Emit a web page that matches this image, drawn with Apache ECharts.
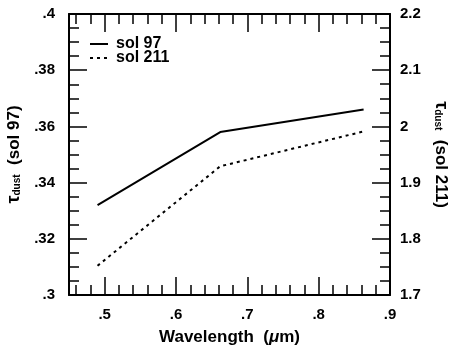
<!DOCTYPE html>
<html lang="en">
<head>
<meta charset="UTF-8">
<title>tau dust vs wavelength</title>
<script src="https://cdn.jsdelivr.net/npm/echarts@6/dist/echarts.min.js"></script>
<style>
  html, body { margin: 0; padding: 0; background: #fff; }
  #chart { width: 452px; height: 346px; }
</style>
</head>
<body>
<div id="chart"></div>
<script>
    // data
    let wavelength = [0.49, 0.662, 0.863];
    let tauSol97 = [0.332, 0.358, 0.366];
    let tauSol211 = [1.752, 1.929, 1.991];
    let seriesNames = ['sol 97', 'sol 211'];
    // tick positions on the wavelength axis
    let xMajorTicks = [0.5, 0.6, 0.7, 0.8, 0.9];
    let xMinorTicks = [0.46, 0.48, 0.52, 0.54, 0.56, 0.58, 0.62, 0.64, 0.66, 0.68,
                       0.72, 0.74, 0.76, 0.78, 0.82, 0.84, 0.86, 0.88];

    let font = 'Liberation Sans';
    let tickFont = {color: '#000', fontFamily: font, fontSize: 15, fontWeight: 'bold'};
    let noZero = function (v) {
        let s = String(+v.toFixed(2));
        return s.replace(/^0\./, '.');
    };
    let titleRich = {
        t: {fontSize: 18, fontFamily: font, color: '#000'},
        s: {fontSize: 10, fontFamily: font, fontWeight: 'bold', color: '#000', padding: [7, 0, 0, 0]}
    };

    // one x axis per tick family (major / minor, bottom / top)
    function xAx(pos, ticks, len, labels, line) {
        return {
            type: 'value', position: pos, min: 0.45, max: 0.9,
            axisLine: {show: line, onZero: false, lineStyle: {color: '#000', width: 2}},
            axisTick: {show: true, inside: true, length: len, customValues: ticks,
                       lineStyle: {color: '#000', width: 1.5}},
            axisLabel: Object.assign({show: labels, customValues: ticks, formatter: noZero, margin: 12}, tickFont),
            splitLine: {show: false}
        };
    }

    let chart = echarts.init(document.getElementById('chart'));
    let option = {
        animation: false,
        backgroundColor: '#fff',
        grid: {left: 69, right: 62, top: 14, bottom: 51, containLabel: false, outerBoundsMode: 'none'},
        legend: {
            orient: 'vertical', left: 84, top: 31, itemGap: -2,
            itemWidth: 18, itemHeight: 14,
            data: seriesNames,
            itemStyle: {opacity: 0},
            textStyle: {color: '#000', fontFamily: font, fontSize: 16, fontWeight: 'bold',
                        lineHeight: 14, padding: [0, 0, 0, 3]}
        },
        xAxis: [
            Object.assign(xAx('bottom', xMajorTicks, 18, true, true), {
                name: 'Wavelength  ({mu|μ}m)', nameLocation: 'middle', nameGap: 34,
                nameTextStyle: {color: '#000', fontFamily: font, fontSize: 17, fontWeight: 'bold',
                    rich: {mu: {fontStyle: 'italic', fontWeight: 'bold', fontFamily: font, fontSize: 17, color: '#000'}}}
            }),
            xAx('bottom', xMinorTicks, 10, false, false),
            xAx('top', xMajorTicks, 18, false, true),
            xAx('top', xMinorTicks, 10, false, false)
        ],
        yAxis: [
            {
                type: 'value', position: 'left', min: 0.3, max: 0.4, interval: 0.02,
                name: '{t|τ}{s|dust}  (sol 97)', nameLocation: 'middle', nameGap: 46,
                nameTextStyle: {color: '#000', fontFamily: font, fontSize: 17, fontWeight: 'bold', rich: titleRich},
                axisLine: {show: true, lineStyle: {color: '#000', width: 2}},
                axisTick: {inside: true, length: 18, lineStyle: {color: '#000', width: 1.5}},
                minorTick: {show: true, splitNumber: 4, length: 10, lineStyle: {color: '#000', width: 1.5}},
                axisLabel: Object.assign({formatter: noZero, margin: 14}, tickFont),
                splitLine: {show: false}
            },
            {
                type: 'value', position: 'right', min: 1.7, max: 2.2, interval: 0.1,
                name: '{t|τ}{s|dust}  (sol 211)', nameLocation: 'middle', nameGap: 40, nameRotate: -90,
                nameTextStyle: {color: '#000', fontFamily: font, fontSize: 17, fontWeight: 'bold', rich: titleRich},
                axisLine: {show: true, lineStyle: {color: '#000', width: 2}},
                axisTick: {inside: true, length: 18, lineStyle: {color: '#000', width: 1.5}},
                minorTick: {show: true, splitNumber: 4, length: 10, lineStyle: {color: '#000', width: 1.5}},
                axisLabel: Object.assign({formatter: function (v) { return String(+v.toFixed(1)); }, margin: 10}, tickFont),
                splitLine: {show: false}
            }
        ],
        series: [
            {
                name: seriesNames[0], type: 'line', xAxisIndex: 0, yAxisIndex: 0,
                data: wavelength.map((x, i) => [x, tauSol97[i]]),
                symbol: 'none', color: '#000',
                lineStyle: {color: '#000', width: 2, type: 'solid'}
            },
            {
                name: seriesNames[1], type: 'line', xAxisIndex: 0, yAxisIndex: 1,
                data: wavelength.map((x, i) => [x, tauSol211[i]]),
                symbol: 'none', color: '#000',
                lineStyle: {color: '#000', width: 2, type: [3, 4]}
            }
        ]
    };
    chart.setOption(option);
</script>
</body>
</html>
